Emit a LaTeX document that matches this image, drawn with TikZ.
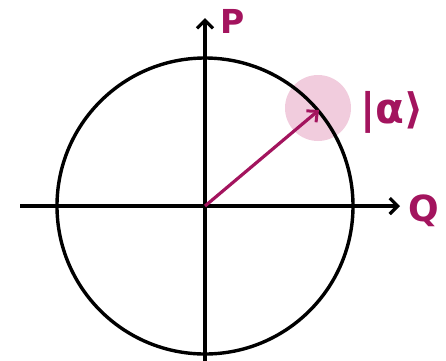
\documentclass[tikz,border=0pt]{standalone}
\usepackage{fontspec}
\setmainfont{DejaVu Sans}
\usetikzlibrary{arrows.meta}
\definecolor{mag}{HTML}{A3145E}
\definecolor{blob}{HTML}{EBB7CF}
\tikzset{
  axis/.style={line width=3.4pt, -{Straight Barb[length=8pt,width=16pt,line width=3.2pt]}},
  lab/.style={text=mag, inner sep=0pt, font=\bfseries},
  ring/.style={circle, draw=black, line width=3.4pt, minimum size=296pt, inner sep=0pt},
  halo/.style={circle, fill=blob, fill opacity=0.7, minimum size=66pt, inner sep=0pt},
  state/.style={draw=mag, line width=3.2pt, -{Straight Barb[length=8pt,width=15pt,line width=3pt]}}
}
\begin{document}
\begin{tikzpicture}[x=1pt,y=-1pt]
\useasboundingbox (0,0) rectangle (446,360);
\coordinate (O) at (205,206);
\coordinate (xl) at (20,206);
\coordinate (xr) at (400,206);
\coordinate (yb) at (205,362);
\coordinate (yt) at (205,18);
\coordinate (tip) at (319,110);
\node[halo] (h) at (318,108) {};
\node[ring] (c) at (O) {};
\draw[axis] (xl) -- (xr);
\draw[axis] (yb) -- (yt);
\draw[state] (O) -- (tip);
\node[lab, font=\bfseries\fontsize{33}{33}\selectfont] (P) at (233,21) {P};
\node[lab, font=\bfseries\fontsize{36}{36}\selectfont] (Q) at (424,211) {Q};
\node[lab, font=\bfseries\fontsize{42}{42}\selectfont] (ket) at (392,112) {|α⟩};
\end{tikzpicture}
\end{document}
